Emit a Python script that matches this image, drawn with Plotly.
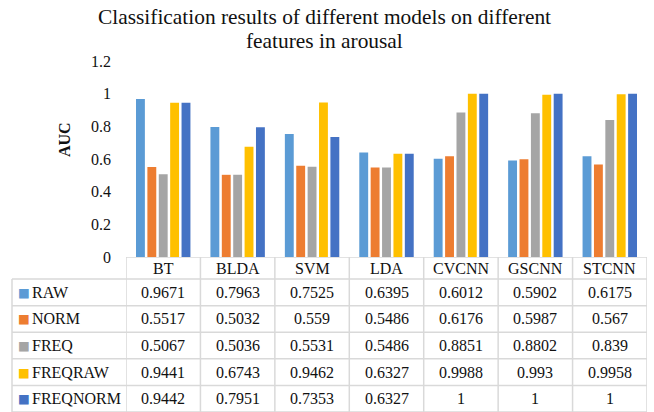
import plotly.graph_objects as go

models = ["BT", "BLDA", "SVM", "LDA", "CVCNN", "GSCNN", "STCNN"]
series_names = ["RAW", "NORM", "FREQ", "FREQRAW", "FREQNORM"]
raw = [0.9671, 0.7963, 0.7525, 0.6395, 0.6012, 0.5902, 0.6175]
norm = [0.5517, 0.5032, 0.559, 0.5486, 0.6176, 0.5987, 0.567]
freq = [0.5067, 0.5036, 0.5531, 0.5486, 0.8851, 0.8802, 0.839]
freqraw = [0.9441, 0.6743, 0.9462, 0.6327, 0.9988, 0.993, 0.9958]
freqnorm = [0.9442, 0.7951, 0.7353, 0.6327, 1, 1, 1]
series_values = [raw, norm, freq, freqraw, freqnorm]
colors = ["#5B9BD5", "#ED7D31", "#A5A5A5", "#FFC000", "#4472C4"]
y_ticks = [0, 0.2, 0.4, 0.6, 0.8, 1, 1.2]
y_tick_labels = ["0", "0.2", "0.4", "0.6", "0.8", "1", "1.2"]
title_lines = ["Classification results of different models on different", "features in arousal"]

FONT = "Liberation Serif, Times New Roman, serif"
TXT = "#111111"
W, H = 654, 412
grid = "#D9D9D9"
px_left, px_plot_left, px_right = 12, 126, 647
px_plot_top, px_axis = 61, 257
header_units = 0.83  # header row height relative to a data row

fig = go.Figure()
for name, vals, col in zip(series_names, series_values, colors):
    fig.add_trace(go.Bar(x=models, y=vals, name=name,
                         marker=dict(color=col, line=dict(width=0)), showlegend=False))

n_rows = len(series_names)
n_cols = len(models)
annotations = []
shapes = []

# title (two lines, Excel-like tight spacing) and axis title
for line_txt, yc in zip(title_lines, [16.8, 41.0]):
    annotations.append(dict(text=line_txt, xref="paper", yref="paper",
                            x=324 / W, y=(H - yc) / H, showarrow=False,
                            xanchor="center", yanchor="middle",
                            font=dict(family=FONT, size=21.4, color=TXT)))
annotations.append(dict(text="<b>AUC</b>", xref="paper", yref="paper",
                        x=65 / W, y=(H - 140) / H, textangle=-90, showarrow=False,
                        xanchor="center", yanchor="middle",
                        font=dict(family=FONT, size=16, color=TXT)))

# table header (category names) on x axis / table axis y2
for m in models:
    annotations.append(dict(text=m, x=m, xref="x", y=-header_units / 2, yref="y2",
                            showarrow=False, xanchor="center", yanchor="middle",
                            font=dict(family=FONT, size=16, color=TXT)))
# table body
for r, (name, col, vals) in enumerate(zip(series_names, colors, series_values)):
    annotations.append(dict(text="■", x=15.5 / W, xref="paper", y=r + 0.5, yref="y2",
                            showarrow=False, xanchor="left", yanchor="middle",
                            font=dict(family="DejaVu Sans", size=12.5, color=col)))
    annotations.append(dict(text=name, x=29.5 / W, xref="paper", y=r + 0.5, yref="y2",
                            showarrow=False, xanchor="left", yanchor="middle",
                            font=dict(family=FONT, size=16, color=TXT)))
    for m, v in zip(models, vals):
        annotations.append(dict(text=f"{v:g}", x=m, xref="x", y=r + 0.5, yref="y2",
                                showarrow=False, xanchor="center", yanchor="middle",
                                font=dict(family=FONT, size=16, color=TXT)))

line = dict(color=grid, width=1.5)
# horizontal grid lines
shapes.append(dict(type="line", xref="paper", yref="y2", x0=px_plot_left / W, x1=px_right / W,
                   y0=-header_units, y1=-header_units, line=line))
for r in range(n_rows + 1):
    shapes.append(dict(type="line", xref="paper", yref="y2", x0=px_left / W, x1=px_right / W,
                       y0=r, y1=r, line=line))
# vertical grid lines
for c in range(n_cols + 1):
    shapes.append(dict(type="line", xref="x", yref="y2", x0=c - 0.5, x1=c - 0.5,
                       y0=-header_units, y1=n_rows, line=line))
shapes.append(dict(type="line", xref="paper", yref="y2", x0=px_left / W, x1=px_left / W,
                   y0=0, y1=n_rows, line=line))

fig.update_layout(
    template="none",
    width=W, height=H,
    margin=dict(l=0, r=0, t=0, b=0),
    paper_bgcolor="white", plot_bgcolor="rgba(0,0,0,0)",
    barmode="group", bargap=0.235, bargroupgap=0.22,
    font=dict(family=FONT, size=16, color=TXT),
    showlegend=False,
    xaxis=dict(domain=[px_plot_left / W, px_right / W], range=[-0.5, n_cols - 0.5],
               showticklabels=False, ticks="", showline=False, showgrid=False, zeroline=False),
    yaxis=dict(domain=[(H - px_axis) / H, (H - px_plot_top) / H], range=[0, 1.2],
               tickvals=y_ticks, ticktext=y_tick_labels, ticks="",
               showgrid=False, zeroline=False, showline=False,
               ticklabelstandoff=14, tickfont=dict(family=FONT, size=16, color=TXT)),
    yaxis2=dict(domain=[0, (H - px_axis) / H], range=[n_rows, -header_units],
                anchor="x", showticklabels=False, ticks="", showgrid=False,
                zeroline=False, showline=False),
    annotations=annotations,
    shapes=shapes,
)

fig.write_html("out.html")
